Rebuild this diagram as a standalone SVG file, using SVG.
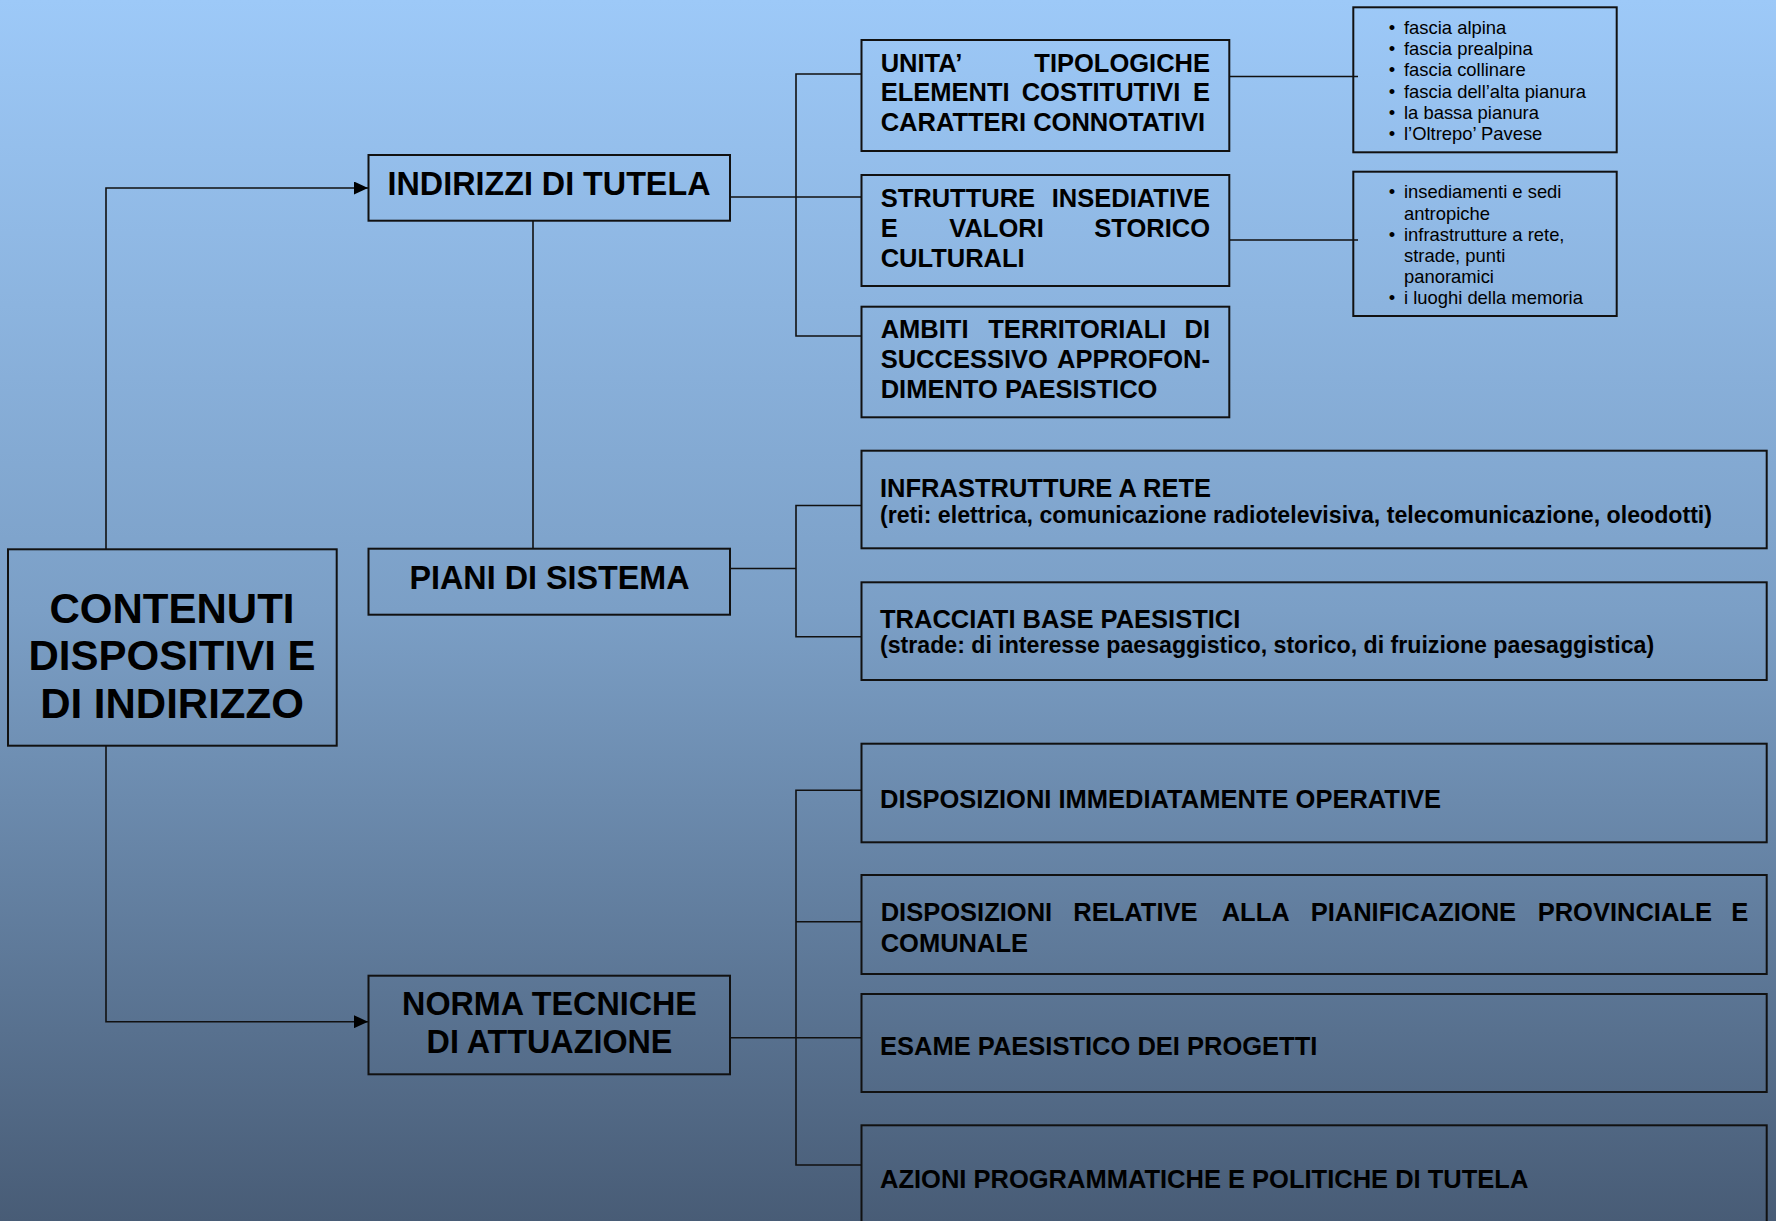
<svg xmlns="http://www.w3.org/2000/svg" width="1776" height="1221" viewBox="0 0 1776 1221">
<defs>
<linearGradient id="bg" x1="0" y1="0" x2="0" y2="1">
<stop offset="0" stop-color="#9dc9f8"/>
<stop offset="0.5" stop-color="#7b9fc6"/>
<stop offset="1" stop-color="#485c76"/>
</linearGradient>
<marker id="arr" viewBox="0 0 14 13" refX="14" refY="6.5" markerWidth="14" markerHeight="13" markerUnits="userSpaceOnUse" orient="auto">
<path d="M0,0 L14,6.5 L0,13 Z" fill="#000"/>
</marker>
<style>
.box{fill:none;stroke:#111;stroke-width:2}
.ln{fill:none;stroke:#111;stroke-width:1.6}
.h{font-family:"Liberation Sans",Arial,sans-serif;font-weight:bold;fill:#000}
.big{font-size:42px}
.mid{font-size:32.3px}
.t{font-size:25.5px}
.s{font-size:23.15px}
.li{font-family:"Liberation Sans",Arial,sans-serif;font-size:18.4px;fill:#000}
</style>
</defs>
<rect x="0" y="0" width="1776" height="1221" fill="url(#bg)"/>

<g id="connectors">
<polyline class="ln" points="106,549 106,188 368,188" marker-end="url(#arr)"/>
<polyline class="ln" points="106,746 106,1021.7 368,1021.7" marker-end="url(#arr)"/>
<line class="ln" x1="533" y1="221" x2="533" y2="549"/>
<line class="ln" x1="730" y1="197" x2="796" y2="197"/>
<polyline class="ln" points="861,74 796,74 796,336 861,336"/>
<line class="ln" x1="796" y1="197" x2="861" y2="197"/>
<line class="ln" x1="1229" y1="76.5" x2="1358" y2="76.5"/>
<line class="ln" x1="1229" y1="240" x2="1358" y2="240"/>
<line class="ln" x1="730" y1="568.5" x2="796" y2="568.5"/>
<polyline class="ln" points="861,505.5 796,505.5 796,636.7 861,636.7"/>
<line class="ln" x1="730" y1="1037.7" x2="861" y2="1037.7"/>
<polyline class="ln" points="861,790.3 796,790.3 796,1165 861,1165"/>
<line class="ln" x1="796" y1="921.7" x2="861" y2="921.7"/>
</g>

<g id="contenuti">
<rect class="box" x="8" y="549.3" width="328.7" height="196.4"/>
<text class="h big" text-anchor="middle" x="172" y="622.7">CONTENUTI</text>
<text class="h big" text-anchor="middle" x="172" y="670">DISPOSITIVI E</text>
<text class="h big" text-anchor="middle" x="172" y="717.7">DI INDIRIZZO</text>
</g>

<g id="indirizzi">
<rect class="box" x="368.5" y="155" width="361.5" height="65.7"/>
<text class="h mid" text-anchor="middle" x="549" y="195">INDIRIZZI DI TUTELA</text>
</g>

<g id="piani">
<rect class="box" x="368.5" y="548.7" width="361.5" height="66"/>
<text class="h mid" text-anchor="middle" x="549.5" y="589.3">PIANI DI SISTEMA</text>
</g>

<g id="norma">
<rect class="box" x="368.5" y="975.7" width="361.5" height="98.6"/>
<text class="h mid" text-anchor="middle" x="549.5" y="1015">NORMA TECNICHE</text>
<text class="h mid" text-anchor="middle" x="549.5" y="1053.2">DI ATTUAZIONE</text>
</g>

<g id="unita">
<rect class="box" x="861.5" y="40" width="367.8" height="111"/>
<text class="h t" x="880.7" y="71.7">UNITA’</text>
<text class="h t" x="1210" y="71.7" text-anchor="end">TIPOLOGICHE</text>
<text class="h t" x="880.7" y="100.9">ELEMENTI</text>
<text class="h t" x="1021.7" y="100.9">COSTITUTIVI</text>
<text class="h t" x="1210" y="100.9" text-anchor="end">E</text>
<text class="h t" x="880.7" y="131">CARATTERI CONNOTATIVI</text>
</g>

<g id="strutture">
<rect class="box" x="861.5" y="175" width="367.8" height="111"/>
<text class="h t" x="880.7" y="206.7">STRUTTURE</text>
<text class="h t" x="1210" y="206.7" text-anchor="end">INSEDIATIVE</text>
<text class="h t" x="880.7" y="236.7">E</text>
<text class="h t" x="949.3" y="236.7">VALORI</text>
<text class="h t" x="1210" y="236.7" text-anchor="end">STORICO</text>
<text class="h t" x="880.7" y="266.7">CULTURALI</text>
</g>

<g id="ambiti">
<rect class="box" x="861.5" y="306.7" width="367.8" height="110.6"/>
<text class="h t" x="880.7" y="338.3">AMBITI</text>
<text class="h t" x="988.3" y="338.3">TERRITORIALI</text>
<text class="h t" x="1210" y="338.3" text-anchor="end">DI</text>
<text class="h t" x="880.7" y="367.7">SUCCESSIVO</text>
<text class="h t" x="1210" y="367.7" text-anchor="end">APPROFON-</text>
<text class="h t" x="880.7" y="398.3">DIMENTO PAESISTICO</text>
</g>

<g id="lista-fasce">
<rect class="box" x="1353.3" y="7.3" width="263.4" height="145"/>
<text class="li" x="1392" y="33.7" text-anchor="middle">•</text><text class="li" x="1404" y="33.7">fascia alpina</text>
<text class="li" x="1392" y="55.3" text-anchor="middle">•</text><text class="li" x="1404" y="55.3">fascia prealpina</text>
<text class="li" x="1392" y="76.3" text-anchor="middle">•</text><text class="li" x="1404" y="76.3">fascia collinare</text>
<text class="li" x="1392" y="97.5" text-anchor="middle">•</text><text class="li" x="1404" y="97.5">fascia dell’alta pianura</text>
<text class="li" x="1392" y="119.3" text-anchor="middle">•</text><text class="li" x="1404" y="119.3">la bassa pianura</text>
<text class="li" x="1392" y="140" text-anchor="middle">•</text><text class="li" x="1404" y="140">l’Oltrepo’ Pavese</text>
</g>

<g id="lista-insediamenti">
<rect class="box" x="1353.3" y="171.7" width="263.4" height="144.3"/>
<text class="li" x="1392" y="198.3" text-anchor="middle">•</text><text class="li" x="1404" y="198.3">insediamenti e sedi</text>
<text class="li" x="1404" y="220">antropiche</text>
<text class="li" x="1392" y="240.7" text-anchor="middle">•</text><text class="li" x="1404" y="240.7">infrastrutture a rete,</text>
<text class="li" x="1404" y="261.7">strade, punti</text>
<text class="li" x="1404" y="282.7">panoramici</text>
<text class="li" x="1392" y="304" text-anchor="middle">•</text><text class="li" x="1404" y="304">i luoghi della memoria</text>
</g>

<g id="infrastrutture">
<rect class="box" x="861.5" y="450.7" width="905.2" height="97.6"/>
<text class="h t" x="880" y="497.3">INFRASTRUTTURE A RETE</text>
<text class="h s" x="880" y="522.7">(reti: elettrica, comunicazione radiotelevisiva, telecomunicazione, oleodotti)</text>
</g>

<g id="tracciati">
<rect class="box" x="861.5" y="582.3" width="905.2" height="97.7"/>
<text class="h t" x="880" y="628.3">TRACCIATI BASE PAESISTICI</text>
<text class="h s" x="880" y="653.3">(strade: di interesse paesaggistico, storico, di fruizione paesaggistica)</text>
</g>

<g id="disp-immediate">
<rect class="box" x="861.5" y="743.7" width="905.2" height="98.6"/>
<text class="h t" x="880" y="807.5">DISPOSIZIONI IMMEDIATAMENTE OPERATIVE</text>
</g>

<g id="disp-relative">
<rect class="box" x="861.5" y="875" width="905.2" height="99"/>
<text class="h t" x="880.7" y="920.8">DISPOSIZIONI</text>
<text class="h t" x="1073.3" y="920.8">RELATIVE</text>
<text class="h t" x="1221.7" y="920.8">ALLA</text>
<text class="h t" x="1310.7" y="920.8">PIANIFICAZIONE</text>
<text class="h t" x="1537.7" y="920.8">PROVINCIALE</text>
<text class="h t" x="1748.3" y="920.8" text-anchor="end">E</text>
<text class="h t" x="880.7" y="951.7">COMUNALE</text>
</g>

<g id="esame">
<rect class="box" x="861.5" y="994" width="905.2" height="98"/>
<text class="h t" x="880" y="1055">ESAME PAESISTICO DEI PROGETTI</text>
</g>

<g id="azioni">
<rect class="box" x="861.5" y="1125.3" width="905.2" height="110"/>
<text class="h t" x="880" y="1187.7">AZIONI PROGRAMMATICHE E POLITICHE DI TUTELA</text>
</g>
</svg>
